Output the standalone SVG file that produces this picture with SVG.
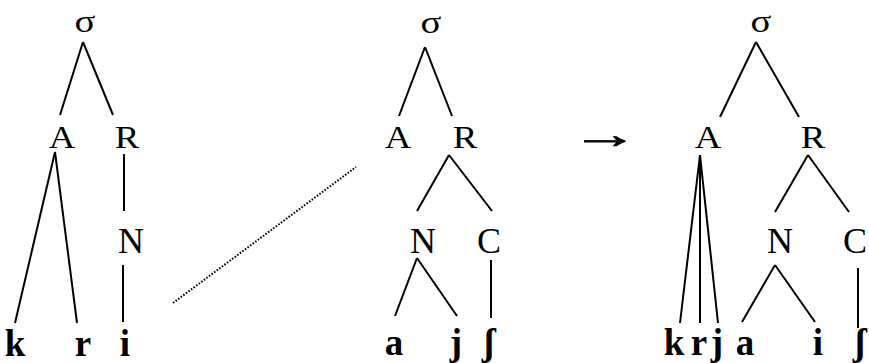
<svg xmlns="http://www.w3.org/2000/svg" width="869" height="363" viewBox="0 0 869 363">
<style>
text{font-family:"Liberation Serif","Times New Roman",serif;fill:#000;text-anchor:middle}
.s{font-size:31px}
.u{font-size:32px}
.m{font-size:36px}
.b{font-size:37px;font-weight:bold}
.e line{stroke:#000;stroke-width:2;stroke-linecap:butt}
.d{stroke:#000;stroke-width:1.6;stroke-dasharray:1.6 1.6}
</style>
<g id="connectors" class="e">
<line x1="83" y1="42" x2="60" y2="115"/>
<line x1="83" y1="42" x2="113" y2="115"/>
<line x1="55" y1="152" x2="15" y2="323"/>
<line x1="55" y1="152" x2="77" y2="323"/>
<line x1="124" y1="154" x2="124" y2="211"/>
<line x1="123" y1="265" x2="123" y2="322"/>
<line x1="425" y1="47" x2="399" y2="116"/>
<line x1="425" y1="47" x2="452" y2="116"/>
<line x1="449" y1="155" x2="417" y2="211"/>
<line x1="449" y1="155" x2="492" y2="211"/>
<line x1="417" y1="258" x2="395" y2="316"/>
<line x1="417" y1="258" x2="457" y2="316"/>
<line x1="491" y1="260" x2="491" y2="318"/>
<line x1="756" y1="42" x2="720" y2="117"/>
<line x1="756" y1="42" x2="799" y2="117"/>
<line x1="700" y1="155" x2="680" y2="323"/>
<line x1="700" y1="155" x2="700" y2="323"/>
<line x1="700" y1="155" x2="718" y2="323"/>
<line x1="808" y1="155" x2="775" y2="212"/>
<line x1="808" y1="155" x2="849" y2="212"/>
<line x1="775" y1="265" x2="742" y2="322"/>
<line x1="775" y1="265" x2="815" y2="322"/>
<line x1="858" y1="268" x2="858" y2="328"/>
<line class="d" x1="173" y1="303" x2="356" y2="167"/>
</g>
<g id="tree1">
<text class="s" transform="translate(85,32) scale(1.25,1)">σ</text>
<text class="u" transform="translate(62,148) scale(1.15,1)">A</text>
<text class="u" transform="translate(127,148) scale(1.15,1)">R</text>
<text class="m" transform="translate(131,253)">N</text>
<text class="b" x="15" y="356">k</text>
<text class="b" x="83" y="356">r</text>
<text class="b" x="125" y="356">i</text>
</g>
<g id="tree2">
<text class="s" transform="translate(431,33) scale(1.25,1)">σ</text>
<text class="u" transform="translate(398,148) scale(1.15,1)">A</text>
<text class="u" transform="translate(465,148) scale(1.15,1)">R</text>
<text class="m" transform="translate(423,253)">N</text>
<text class="m" transform="translate(489,253)">C</text>
<text class="b" x="394" y="355">a</text>
<text class="b" x="456" y="355">j</text>
<text class="b" x="489" y="355">ʃ</text>
</g>
<g id="arrow">
<text transform="translate(605,148) scale(1.7,1)" style="font-size:40px;stroke:#000;stroke-width:0.8">→</text>
</g>
<g id="tree3">
<text class="s" transform="translate(761,32) scale(1.25,1)">σ</text>
<text class="u" transform="translate(708,148) scale(1.15,1)">A</text>
<text class="u" transform="translate(813,148) scale(1.15,1)">R</text>
<text class="m" transform="translate(780,253)">N</text>
<text class="m" transform="translate(855,253)">C</text>
<text class="b" x="674" y="355">k</text>
<text class="b" x="699" y="355">r</text>
<text class="b" x="717" y="355">j</text>
<text class="b" x="745" y="355">a</text>
<text class="b" x="818" y="355">i</text>
<text class="b" x="860" y="355">ʃ</text>
</g>
</svg>
